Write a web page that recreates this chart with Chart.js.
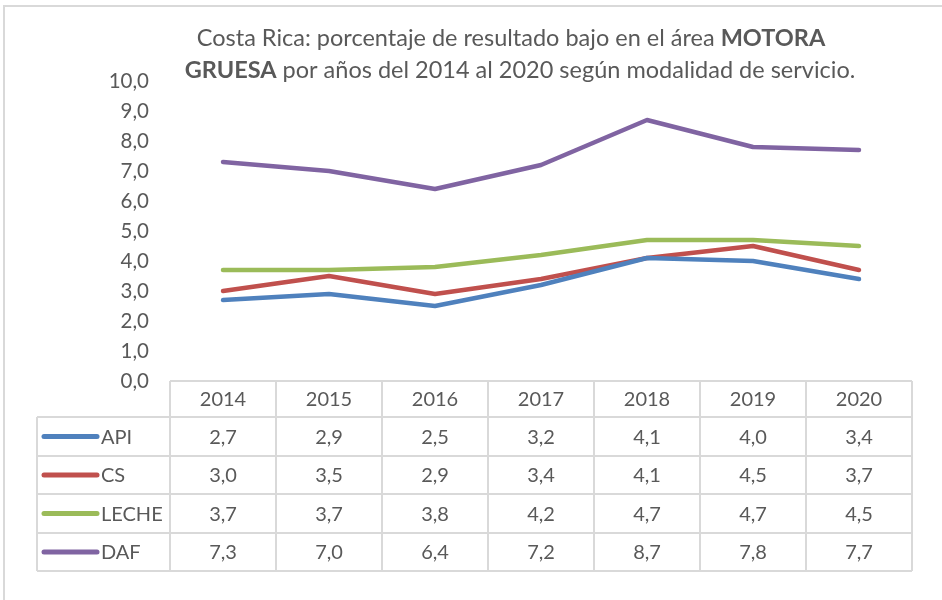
<!DOCTYPE html>
<html>
<head>
<meta charset="utf-8">
<script src="https://cdn.jsdelivr.net/npm/chart.js@4.4.1/dist/chart.umd.min.js"></script>
<style>
  html, body { margin: 0; padding: 0; background: #fff; }
  #wrap { width: 942px; height: 600px; position: relative; }
</style>
</head>
<body>
<div id="wrap"><canvas id="motoraChart"></canvas></div>
<script>
// datos del gráfico
var years = ['2014', '2015', '2016', '2017', '2018', '2019', '2020'];
var api = [2.7, 2.9, 2.5, 3.2, 4.1, 4.0, 3.4];
var cs = [3.0, 3.5, 2.9, 3.4, 4.1, 4.5, 3.7];
var leche = [3.7, 3.7, 3.8, 4.2, 4.7, 4.7, 4.5];
var daf = [7.3, 7.0, 6.4, 7.2, 8.7, 7.8, 7.7];
var seriesNames = ['API', 'CS', 'LECHE', 'DAF'];
var yTicks = [0, 1, 2, 3, 4, 5, 6, 7, 8, 9, 10];

var colors = {
  api: '#4F81BD',
  cs: '#C0504D',
  leche: '#9BBB59',
  daf: '#8064A2'
};
var textColor = '#595959';
var gridColor = '#D9D9D9';
var fontFamily = 'Lato, "Open Sans", sans-serif';

function fmt(v) {
  return v.toFixed(1).replace('.', ',');
}

function makeDataset(label, data, color) {
  return {
    label: label,
    data: data,
    borderColor: color,
    backgroundColor: color,
    borderWidth: 4.5,
    pointRadius: 0,
    tension: 0,
    fill: false,
    borderCapStyle: 'round',
    borderJoinStyle: 'round'
  };
}

// titulo con partes en negrita
var titleLines = [
  [{ t: 'Costa Rica: porcentaje de resultado bajo en el área ', b: false }, { t: 'MOTORA', b: true }],
  [{ t: 'GRUESA', b: true }, { t: ' por años del 2014 al 2020 según modalidad de servicio.', b: false }]
];

var titlePlugin = {
  id: 'richTitle',
  afterDraw: function (chart) {
    var ctx = chart.ctx;
    ctx.save();
    ctx.fillStyle = textColor;
    ctx.textBaseline = 'alphabetic';
    ctx.textAlign = 'left';
    var centers = [511, 520];
    var baselines = [46, 78];
    titleLines.forEach(function (parts, i) {
      var total = 0;
      parts.forEach(function (p) {
        ctx.font = (p.b ? 'bold ' : '') + '23.5px ' + fontFamily;
        total += ctx.measureText(p.t).width;
      });
      var x = centers[i] - total / 2;
      parts.forEach(function (p) {
        ctx.font = (p.b ? 'bold ' : '') + '23.5px ' + fontFamily;
        ctx.fillText(p.t, x, baselines[i]);
        x += ctx.measureText(p.t).width;
      });
    });
    ctx.restore();
  }
};

// tabla de datos bajo el eje x
var tablePlugin = {
  id: 'dataTable',
  afterDraw: function (chart) {
    var ctx = chart.ctx;
    var xs = chart.scales.x;
    var area = chart.chartArea;
    var allSeries = [api, cs, leche, daf];
    var seriesColors = [colors.api, colors.cs, colors.leche, colors.daf];
    var colW = (area.right - area.left) / years.length;
    var top = area.bottom;
    var rowEdges = [top, 417, 456, 494, 533, 571];
    var tableLeft = 37;

    ctx.save();
    // borde exterior del gráfico
    ctx.strokeStyle = gridColor;
    ctx.lineWidth = 2;
    ctx.beginPath();
    ctx.moveTo(4, 600);
    ctx.lineTo(4, 6);
    ctx.lineTo(942, 6);
    ctx.stroke();

    ctx.lineWidth = 2;
    ctx.strokeStyle = gridColor;
    ctx.beginPath();
    // lineas horizontales
    ctx.moveTo(area.left, rowEdges[0]);
    ctx.lineTo(area.right, rowEdges[0]);
    for (var r = 1; r < rowEdges.length; r++) {
      ctx.moveTo(tableLeft, rowEdges[r]);
      ctx.lineTo(area.right, rowEdges[r]);
    }
    // lineas verticales
    ctx.moveTo(tableLeft, rowEdges[1]);
    ctx.lineTo(tableLeft, rowEdges[5]);
    for (var c = 0; c <= years.length; c++) {
      var vx = area.left + c * colW;
      ctx.moveTo(vx, rowEdges[0]);
      ctx.lineTo(vx, rowEdges[5]);
    }
    ctx.stroke();

    ctx.fillStyle = textColor;
    ctx.font = '20px ' + fontFamily;
    ctx.textBaseline = 'middle';
    ctx.textAlign = 'center';
    years.forEach(function (y, i) {
      var cx = xs.getPixelForValue(i);
      ctx.fillText(y, cx, (rowEdges[0] + rowEdges[1]) / 2 + 1);
    });

    allSeries.forEach(function (data, s) {
      var cy = (rowEdges[s + 1] + rowEdges[s + 2]) / 2 + 1;
      // clave de la leyenda
      ctx.strokeStyle = seriesColors[s];
      ctx.lineWidth = 5;
      ctx.lineCap = 'round';
      ctx.beginPath();
      ctx.moveTo(44, cy - 1);
      ctx.lineTo(97, cy - 1);
      ctx.stroke();
      ctx.textAlign = 'left';
      ctx.fillText(seriesNames[s], 101, cy);
      ctx.textAlign = 'center';
      data.forEach(function (v, i) {
        ctx.fillText(fmt(v), xs.getPixelForValue(i), cy);
      });
    });
    ctx.restore();
  }
};

var config = {
  type: 'line',
  data: {
    labels: years,
    datasets: [
      makeDataset(seriesNames[0], api, colors.api),
      makeDataset(seriesNames[1], cs, colors.cs),
      makeDataset(seriesNames[2], leche, colors.leche),
      makeDataset(seriesNames[3], daf, colors.daf)
    ]
  },
  options: {
    responsive: false,
    animation: false,
    devicePixelRatio: 1,
    layout: {
      padding: { left: 0, right: 30, top: 81, bottom: 219 }
    },
    plugins: {
      legend: { display: false },
      title: { display: false },
      tooltip: { enabled: false }
    },
    scales: {
      x: {
        display: false,
        offset: true
      },
      y: {
        min: 0,
        max: 10,
        afterFit: function (scale) { scale.width = 170; },
        afterBuildTicks: function (scale) {
          scale.ticks = yTicks.map(function (v) { return { value: v }; });
        },
        grid: { display: false, drawTicks: false },
        border: { display: false },
        ticks: {
          padding: 21,
          color: textColor,
          font: { family: fontFamily, size: 20.5 },
          callback: function (v) { return fmt(v); }
        }
      }
    }
  },
  plugins: [titlePlugin, tablePlugin]
};

var canvas = document.getElementById('motoraChart');
canvas.width = 942;
canvas.height = 600;
window.motoraChart = new Chart(canvas.getContext('2d'), config);
</script>
</body>
</html>
